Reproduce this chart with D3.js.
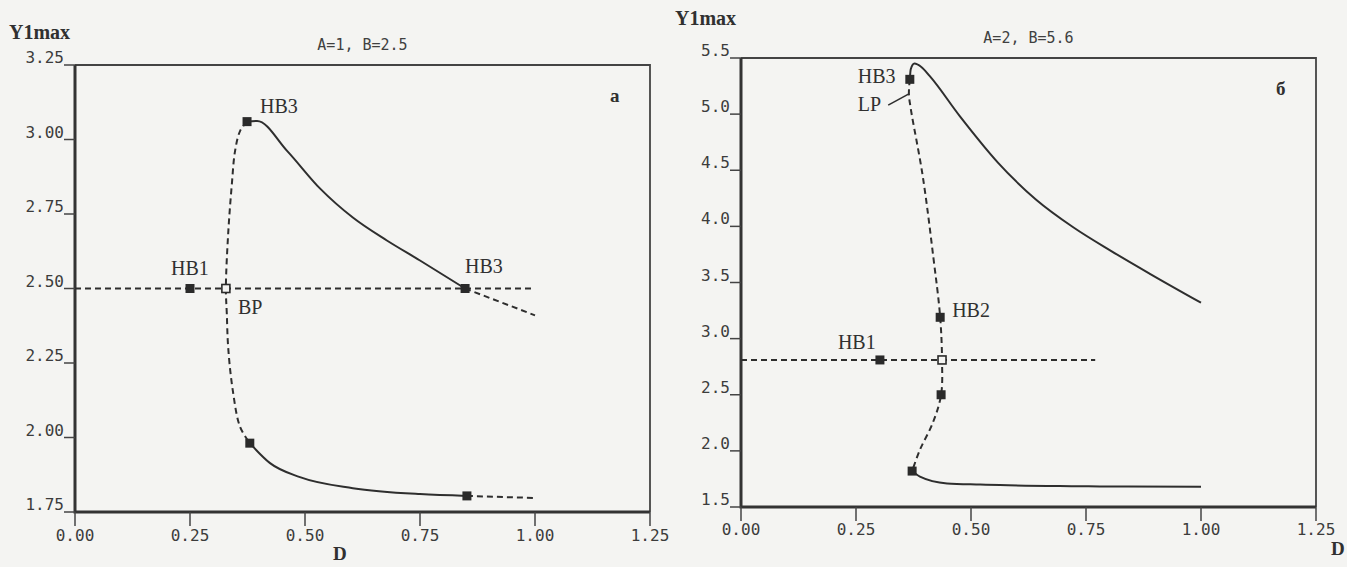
<!doctype html>
<html lang="en">
  <head>
    <meta charset="utf-8">
    <title>Y1max vs D</title>
    <style>
      body { margin: 0; background: #f4f4f2; }
      svg { display: block; }
      .tick-label { font-family: "DejaVu Sans Mono", monospace; font-size: 16px; fill: #3c3c3c; }
      .title { font-family: "DejaVu Sans Mono", monospace; font-size: 15px; fill: #404040; }
      .serif { font-family: "Liberation Serif", "Times New Roman", serif; fill: #303030; }
    </style>
  </head>
  <body>
    <div id="chart"></div>
    <script src="https://cdn.jsdelivr.net/npm/d3@7"></script>
    <script>
    // ---- data ----
    var xTicks = [0, 0.25, 0.5, 0.75, 1.0, 1.25];
    var yTicksA = [1.75, 2.0, 2.25, 2.5, 2.75, 3.0, 3.25];
    var yTicksB = [1.5, 2.0, 2.5, 3.0, 3.5, 4.0, 4.5, 5.0, 5.5];

    // panel a: A=1, B=2.5
    var aHoriz = [[0, 2.5], [1.0, 2.5]];
    var aUpperStable = [[0.374, 3.06], [0.396, 3.062], [0.461, 2.962], [0.533, 2.835], [0.604, 2.738], [0.678, 2.661], [0.75, 2.594], [0.848, 2.5]];
    var aUpperTail = [[0.848, 2.5], [1.0, 2.41]];
    var aLoop = [[0.374, 3.06], [0.359, 3.029], [0.348, 2.962], [0.341, 2.851], [0.333, 2.684], [0.328, 2.5], [0.330, 2.416], [0.333, 2.302], [0.343, 2.158], [0.359, 2.035], [0.38, 1.981]];
    var aLowerStable = [[0.38, 1.981], [0.424, 1.914], [0.489, 1.867], [0.604, 1.83], [0.75, 1.81], [0.852, 1.804]];
    var aLowerTail = [[0.852, 1.804], [1.0, 1.797]];
    var aFilled = [[0.25, 2.5], [0.374, 3.06], [0.848, 2.5], [0.38, 1.981], [0.852, 1.804]];
    var aOpen = [[0.328, 2.5]];

    // panel б: A=2, B=5.6
    var bHoriz = [[0, 2.81], [0.77, 2.81]];
    var bUpperStable = [[0.367, 5.31], [0.369, 5.40], [0.377, 5.45], [0.392, 5.42], [0.41, 5.34], [0.476, 4.98], [0.559, 4.566], [0.641, 4.24], [0.723, 3.99], [0.805, 3.78], [0.888, 3.58], [1.0, 3.32]];
    var bMiddle = [[0.367, 5.31], [0.365, 5.18], [0.369, 5.05], [0.395, 4.45], [0.418, 3.73], [0.433, 3.19], [0.437, 2.81], [0.435, 2.5], [0.417, 2.25], [0.389, 2.01], [0.372, 1.82]];
    var bLowerStable = [[0.372, 1.82], [0.389, 1.77], [0.448, 1.71], [0.52, 1.70], [0.563, 1.695], [0.737, 1.685], [0.78, 1.683], [1.0, 1.68]];
    var bFilled = [[0.302, 2.81], [0.433, 3.19], [0.435, 2.5], [0.372, 1.82], [0.367, 5.31]];
    var bOpen = [[0.437, 2.81]];

    var svg = d3.select("#chart")
        .append("svg")
        .attr("width", 1347)
        .attr("height", 567);

    function drawPanel(p) {
      var x = d3.scaleLinear().domain([0, 1.25]).range([p.left, p.right]);
      var y = d3.scaleLinear().domain(d3.extent(p.yTicks)).range([p.bottom, p.top]);
      var g = svg.append("g");

      // frame: thin top/right, heavy left/bottom
      g.append("path")
        .attr("d", "M" + p.left + "," + p.top + "H" + p.right + "V" + p.bottom)
        .attr("fill", "none").attr("stroke", "#444").attr("stroke-width", 1.8);
      g.append("path")
        .attr("d", "M" + p.left + "," + p.top + "V" + p.bottom + "H" + p.right)
        .attr("fill", "none").attr("stroke", "#333").attr("stroke-width", 3);

      // x ticks
      xTicks.forEach(function(t) {
        g.append("line")
          .attr("x1", x(t)).attr("x2", x(t))
          .attr("y1", p.bottom).attr("y2", p.bottom + 14)
          .attr("stroke", "#444").attr("stroke-width", 1.5);
        g.append("text")
          .attr("class", "tick-label")
          .attr("x", x(t)).attr("y", p.bottom + p.xLabelGap)
          .attr("text-anchor", "middle")
          .text(d3.format(".2f")(t));
      });

      // y ticks, drawn like "3.00_"
      p.yTicks.forEach(function(t) {
        g.append("line")
          .attr("x1", p.left - 11).attr("x2", p.left)
          .attr("y1", y(t)).attr("y2", y(t))
          .attr("stroke", "#444").attr("stroke-width", 1.5);
        g.append("text")
          .attr("class", "tick-label")
          .attr("x", p.left - 11).attr("y", y(t) - 2)
          .attr("text-anchor", "end")
          .text(d3.format(p.yFormat)(t));
      });

      // stable branches run left to right, loops turn back on themselves
      var smooth = d3.line()
        .x(function(d) { return x(d[0]); })
        .y(function(d) { return y(d[1]); })
        .curve(d3.curveMonotoneX);
      var loop = d3.line()
        .x(function(d) { return x(d[0]); })
        .y(function(d) { return y(d[1]); })
        .curve(d3.curveCatmullRom);

      p.dashed.forEach(function(s) {
        g.append("path").datum(s)
          .attr("d", loop)
          .attr("fill", "none").attr("stroke", "#2e2e2e")
          .attr("stroke-width", 2).attr("stroke-dasharray", "6,4");
      });
      p.solid.forEach(function(s) {
        g.append("path").datum(s)
          .attr("d", smooth)
          .attr("fill", "none").attr("stroke", "#2e2e2e")
          .attr("stroke-width", 2);
      });

      g.selectAll("rect.filled").data(p.filled).join("rect")
        .attr("class", "filled")
        .attr("x", function(d) { return x(d[0]) - 4.5; })
        .attr("y", function(d) { return y(d[1]) - 4.5; })
        .attr("width", 9).attr("height", 9)
        .attr("fill", "#2a2a2a");
      g.selectAll("rect.open").data(p.open).join("rect")
        .attr("class", "open")
        .attr("x", function(d) { return x(d[0]) - 4; })
        .attr("y", function(d) { return y(d[1]) - 4; })
        .attr("width", 8).attr("height", 8)
        .attr("fill", "#f4f4f2").attr("stroke", "#2a2a2a").attr("stroke-width", 1.6);

      // point labels (anchor point in data units + pixel offset)
      p.labels.forEach(function(l) {
        g.append("text")
          .attr("class", "serif")
          .attr("font-size", 20)
          .attr("x", x(l[1]) + l[3]).attr("y", y(l[2]) + l[4])
          .text(l[0]);
      });

      g.append("text").attr("class", "title")
        .attr("x", (p.left + p.right) / 2).attr("y", p.top - 15)
        .attr("text-anchor", "middle").text(p.title);
      g.append("text").attr("class", "serif")
        .attr("font-size", 20).attr("font-weight", "bold")
        .attr("x", p.left - 66).attr("y", p.top - p.yLabelGap)
        .text("Y1max");
      g.append("text").attr("class", "serif")
        .attr("font-size", 19).attr("font-weight", "bold")
        .attr("x", p.right - 40).attr("y", p.top + 37)
        .text(p.letter);
      g.append("text").attr("class", "serif")
        .attr("font-size", 19).attr("font-weight", "bold")
        .attr("x", p.dX).attr("y", p.bottom + 48)
        .text("D");

      return { x: x, y: y, g: g };
    }

    drawPanel({
      left: 75, right: 650, top: 65, bottom: 512,
      yTicks: yTicksA, yFormat: ".2f", xLabelGap: 29, yLabelGap: 26,
      title: "A=1, B=2.5", letter: "a", dX: 333,
      dashed: [aHoriz, aUpperTail, aLoop, aLowerTail],
      solid: [aUpperStable, aLowerStable],
      filled: aFilled, open: aOpen,
      labels: [
        ["HB1", 0.25, 2.5, -19, -14],
        ["BP", 0.328, 2.5, 12, 25],
        ["HB3", 0.848, 2.5, 0, -16],
        ["HB3", 0.374, 3.06, 13, -9]
      ]
    });

    var b = drawPanel({
      left: 741, right: 1316, top: 58, bottom: 507,
      yTicks: yTicksB, yFormat: ".1f", xLabelGap: 28, yLabelGap: 33,
      title: "A=2, B=5.6", letter: "б", dX: 1331,
      dashed: [bHoriz, bMiddle],
      solid: [bUpperStable, bLowerStable],
      filled: bFilled, open: bOpen,
      labels: [
        ["HB1", 0.302, 2.81, -42, -11],
        ["HB2", 0.433, 3.19, 12, 0],
        ["HB3", 0.367, 5.31, -52, 4],
        ["LP", 0.367, 5.31, -52, 32]
      ]
    });

    // LP pointer
    b.g.append("line")
      .attr("x1", b.x(0.320)).attr("y1", b.y(5.08))
      .attr("x2", b.x(0.365)).attr("y2", b.y(5.18))
      .attr("stroke", "#2e2e2e").attr("stroke-width", 1.6);
    </script>
  </body>
</html>
